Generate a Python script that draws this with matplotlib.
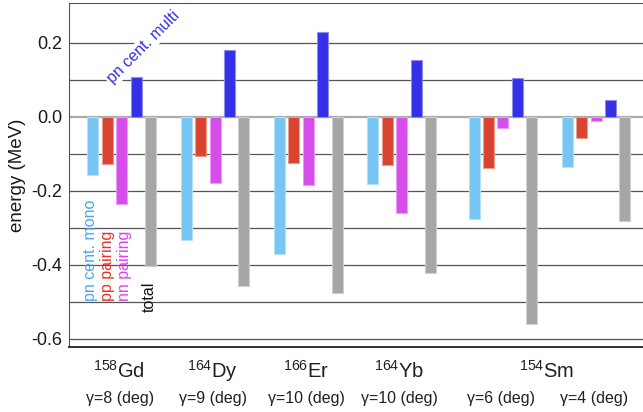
import matplotlib
matplotlib.use("Agg")
import matplotlib.pyplot as plt
import matplotlib.transforms as mtransforms
import numpy as np

plt.rcParams['font.family'] = ['Liberation Sans', 'DejaVu Sans']
plt.rcParams['mathtext.fontset'] = 'custom'
plt.rcParams['mathtext.rm'] = 'Liberation Sans'
plt.rcParams['mathtext.default'] = 'regular'

# Energy contributions (MeV) per nucleus / deformation
isotopes = ['$^{158}$Gd', '$^{164}$Dy', '$^{166}$Er', '$^{164}$Yb', '$^{154}$Sm']
gamma_labels = ['γ=8 (deg)', 'γ=9 (deg)', 'γ=10 (deg)', 'γ=10 (deg)', 'γ=6 (deg)', 'γ=4 (deg)']
pn_cent_mono = [-0.158, -0.332, -0.372, -0.183, -0.276, -0.135]
pp_pairing = [-0.129, -0.107, -0.126, -0.131, -0.139, -0.058]
nn_pairing = [-0.236, -0.178, -0.184, -0.260, -0.030, -0.013]
pn_cent_multi = [0.108, 0.180, 0.229, 0.152, 0.103, 0.046]
total = [-0.404, -0.456, -0.475, -0.422, -0.559, -0.283]

series = [pn_cent_mono, pp_pairing, nn_pairing, pn_cent_multi, total]
colors = ['#76c5f3', '#d84430', '#d64ee9', '#3330e8', '#a6a6a6']
edges = ['#b4e0fa', '#ec9a8c', '#ea9cf4', '#8f8cf4', '#cfcfcf']

# group centres; the two Sm groups sit slightly further right
group_x = np.array([0.0, 1.0, 2.0, 3.0, 4.085, 5.085])
step = 0.1545
width = 0.118
offsets = (np.arange(5) - 2) * step

fig = plt.figure(figsize=(6.43, 4.12), dpi=100)
ax = fig.add_axes([69 / 643, 65 / 412, 1 - 69 / 643, (347 - 3.3) / 412])

ax.set_xlim(-0.565, 5.587)
ax.set_ylim(-0.622, 0.306)

# horizontal grid
for yv in np.arange(-0.6, 0.25, 0.1):
    if abs(yv) < 1e-9:
        continue
    ax.axhline(yv, color='#555555', lw=0.9, zorder=0)
ax.axhline(0.0, color='#ababab', lw=1.6, zorder=0)

for vals, off, c, ec in zip(series, offsets, colors, edges):
    ax.bar(group_x + off, vals, width=width, color=c, edgecolor=ec,
           linewidth=0.8, zorder=2)

ax.set_yticks([-0.6, -0.4, -0.2, 0.0, 0.2])
ax.set_yticklabels(['-0.6', '-0.4', '-0.2', '0.0', '0.2'])
ax.tick_params(axis='y', length=0, pad=5, labelsize=13, labelcolor='#1a1a1a')
ax.set_xticks([])
ax.set_ylabel('energy (MeV)', fontsize=13.5, color='#1a1a1a')
ax.yaxis.set_label_coords(-0.075, 0.5)

ax.spines['right'].set_visible(False)
ax.spines['left'].set_color('#555555')
ax.spines['top'].set_color('#555555')
ax.spines['bottom'].set_color('#333333')
ax.spines['bottom'].set_linewidth(1.4)

# nucleus and deformation labels below the axis
trans = mtransforms.blended_transform_factory(ax.transData, fig.transFigure)
iso_x = [group_x[0], group_x[1], group_x[2], group_x[3], (group_x[4] + group_x[5]) / 2]
for x, lab in zip(iso_x, isotopes):
    ax.text(x - 0.03, 1 - 378 / 412, lab, transform=trans, ha='center',
            va='baseline', fontsize=14.5, color='#231f20')
for x, lab in zip(group_x, gamma_labels):
    ax.text(x - 0.02, 1 - 403 / 412, lab, transform=trans, ha='center',
            va='baseline', fontsize=11.5, color='#231f20')

# series names written beside the first group
name_colors = ['#4aa8e8', '#e8322a', '#e040f0']
names = ['pn cent. mono', 'pp pairing', 'nn pairing']
name_shift = [-0.03, 0.0, 0.03]
for i, (nm, nc) in enumerate(zip(names, name_colors)):
    ax.text(group_x[0] + offsets[i] + name_shift[i], -0.498, nm, rotation=90,
            ha='center', va='bottom', fontsize=11.5, color=nc, zorder=3)
ax.text(group_x[0] + offsets[4] - 0.01, -0.528, 'total', rotation=90,
        ha='center', va='bottom', fontsize=11.5, color='#111111', zorder=3)
ax.text(0.228, 0.187, 'pn cent. multi', rotation=45, ha='center',
        va='center', fontsize=11.5, color='#3330e8', zorder=3,
        bbox=dict(facecolor='white', edgecolor='none', pad=1))

fig.savefig('out.png', dpi=100)
